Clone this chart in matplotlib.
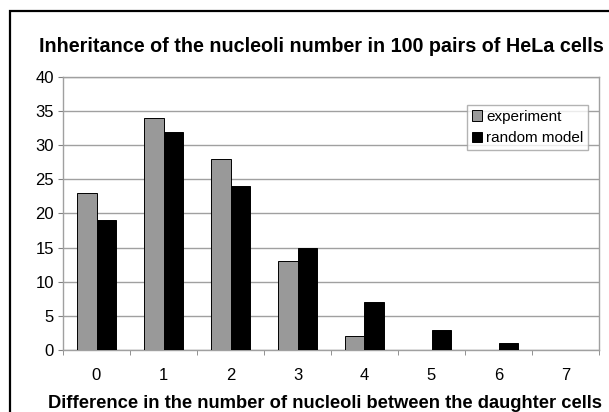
import matplotlib
matplotlib.use("Agg")
import matplotlib.pyplot as plt
import numpy as np
from matplotlib.patches import Rectangle

# Data
categories = ['0', '1', '2', '3', '4', '5', '6', '7']
experiment = [23, 34, 28, 13, 2, 0, 0, 0]
random_model = [19, 32, 24, 15, 7, 3, 1, 0]

plt.rcParams['font.family'] = ['Liberation Sans', 'DejaVu Sans']

fig = plt.figure(figsize=(6.09, 4.12), dpi=100)
fig.patch.set_facecolor('white')
ax = fig.add_axes([63/609, 1 - 350/412, 536/609, 273/412])

# outer chart border (Excel-style, cropped at right/bottom)
fig.patches.append(Rectangle((10/609, -0.1), 1.2, 1 - 11/412 + 0.1,
                             transform=fig.transFigure, fill=False,
                             edgecolor='black', linewidth=1.6, zorder=10))

positions = np.arange(len(categories))
bar_width = 0.29

ax.bar(positions - bar_width/2, experiment, width=bar_width, color='#999999',
       edgecolor='black', linewidth=0.7, label='experiment', zorder=3)
ax.bar(positions + bar_width/2, random_model, width=bar_width, color='black',
       edgecolor='black', linewidth=0.7, label='random model', zorder=3)

ax.set_xlim(-0.5, len(categories) - 0.5)
ax.set_ylim(0, 40)
ax.set_yticks(np.arange(0, 41, 5))
ax.set_xticks(positions)
ax.set_xticklabels(categories)
ax.set_xticks(np.append(positions - 0.5, len(categories) - 0.5), minor=True)

ax.yaxis.grid(True, color='#a0a0a0', linewidth=1, zorder=0)
ax.set_axisbelow(True)
for s in ax.spines.values():
    s.set_color('#a0a0a0')
    s.set_linewidth(1)

ax.tick_params(axis='y', length=3.5, color='#808080', labelsize=12, pad=3)
ax.tick_params(axis='x', which='major', length=0, labelsize=12, pad=13)
ax.tick_params(axis='x', which='minor', length=3.5, color='#808080')

fig.text(321/609, 1 - 47/412, 'Inheritance of the nucleoli number in 100 pairs of HeLa cells',
         ha='center', va='center', fontsize=14.2, fontweight='bold')
fig.text(325/609, 1 - 403/412, 'Difference in the number of nucleoli between the daughter cells',
         ha='center', va='center', fontsize=13.2, fontweight='bold')

leg = ax.legend(loc='upper left', bbox_to_anchor=((467-63)/536, (350-105)/273),
                fontsize=11, frameon=True, fancybox=False, borderpad=0.3,
                handlelength=0.7, handleheight=0.7, handletextpad=0.25,
                labelspacing=0.5, borderaxespad=0)
leg.get_frame().set_edgecolor('#a0a0a0')
leg.get_frame().set_linewidth(1)

fig.savefig('out.png', dpi=100)
